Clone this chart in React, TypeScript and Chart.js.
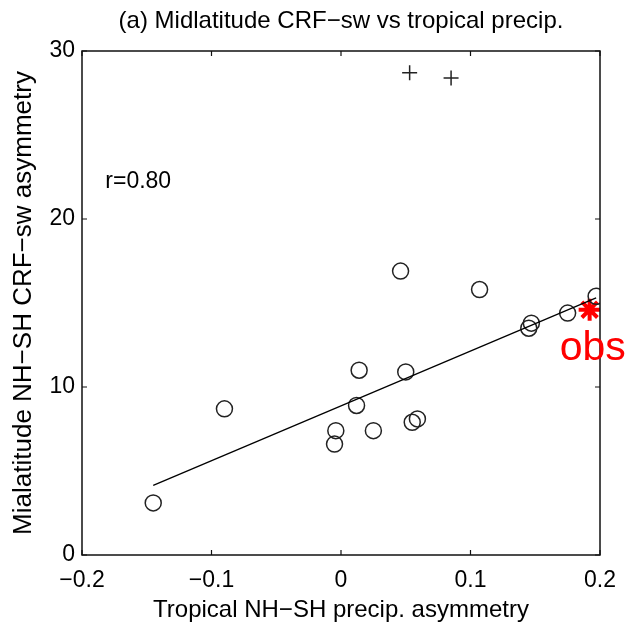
import React, { useEffect, useRef } from "react";
import { Chart, registerables } from "chart.js";

Chart.register(...registerables);

// ---- data ----
const CIRCLE_X = [-0.145, -0.090, -0.004, -0.005, 0.012, 0.014, 0.025, 0.046, 0.050, 0.055, 0.059, 0.107, 0.145, 0.147, 0.175, 0.197];
const CIRCLE_Y = [3.1, 8.7, 7.4, 6.6, 8.9, 11.0, 7.4, 16.9, 10.9, 7.9, 8.1, 15.8, 13.5, 13.8, 14.4, 15.4];
const PLUS_X = [0.053, 0.085];
const PLUS_Y = [28.7, 28.4];
const FIT_X = [-0.145, 0.197];
const FIT_Y = [4.15, 15.3];
const OBS_X = [0.192];
const OBS_Y = [14.6];

const X_TICKS = [-0.2, -0.1, 0, 0.1, 0.2];
const X_TICK_LABELS = ["\u22120.2", "\u22120.1", "0", "0.1", "0.2"];
const Y_TICKS = [0, 10, 20, 30];
const Y_TICK_LABELS = ["0", "10", "20", "30"];

const TITLE = "(a) Midlatitude CRF\u2212sw vs tropical precip.";
const X_TITLE = "Tropical NH\u2212SH precip. asymmetry";
const Y_TITLE = "Mialatitude NH\u2212SH CRF\u2212sw asymmetry";
const R_LABEL = "r=0.80";
const R_POS = { x: -0.182, y: 22.25 };
const OBS_LABEL = "obs";

const FONT = "'Liberation Sans', Arial, Helvetica, sans-serif";

const framePlugin = {
  id: "frame",
  afterDatasetsDraw(chart: any) {
    const { ctx, chartArea } = chart;
    const { left, right, top, bottom } = chartArea;
    const xs = chart.scales.x;
    const ys = chart.scales.y;
    ctx.save();
    ctx.strokeStyle = "#111";
    ctx.lineWidth = 1.5;
    ctx.strokeRect(left, top, right - left, bottom - top);
    ctx.lineWidth = 1.2;
    const tl = 5;
    ctx.beginPath();
    X_TICKS.forEach((v) => {
      const px = xs.getPixelForValue(v);
      ctx.moveTo(px, bottom);
      ctx.lineTo(px, bottom - tl);
      ctx.moveTo(px, top);
      ctx.lineTo(px, top + tl);
    });
    Y_TICKS.forEach((v) => {
      const py = ys.getPixelForValue(v);
      ctx.moveTo(left, py);
      ctx.lineTo(left + tl, py);
      ctx.moveTo(right, py);
      ctx.lineTo(right - tl, py);
    });
    ctx.stroke();

    // annotations
    ctx.fillStyle = "#000";
    ctx.font = `23px ${FONT}`;
    ctx.textAlign = "left";
    ctx.textBaseline = "middle";
    ctx.fillText(R_LABEL, xs.getPixelForValue(R_POS.x), ys.getPixelForValue(R_POS.y));

    ctx.fillStyle = "#ff0000";
    ctx.font = `41px ${FONT}`;
    ctx.textAlign = "left";
    ctx.textBaseline = "alphabetic";
    ctx.fillText(OBS_LABEL, xs.getPixelForValue(OBS_X[0]) - 30, ys.getPixelForValue(OBS_Y[0]) + 50);
    ctx.restore();
  },
};

export default function App() {
  const ref = useRef<HTMLCanvasElement>(null);
  useEffect(() => {
    if (!ref.current) return;
    const chart = new Chart(ref.current, {
      type: "scatter",
      data: {
        datasets: [
          {
            type: "line",
            data: FIT_X.map((x, i) => ({ x, y: FIT_Y[i] })),
            borderColor: "#000",
            borderWidth: 1.3,
            pointRadius: 0,
            fill: false,
          } as any,
          {
            data: CIRCLE_X.map((x, i) => ({ x, y: CIRCLE_Y[i] })),
            pointStyle: "circle",
            pointRadius: 8,
            backgroundColor: "rgba(0,0,0,0)",
            borderColor: "#222",
            borderWidth: 1.5,
          },
          {
            data: PLUS_X.map((x, i) => ({ x, y: PLUS_Y[i] })),
            pointStyle: "cross",
            pointRadius: 7.5,
            borderColor: "#222",
            borderWidth: 1.5,
          },
          {
            data: OBS_X.map((x, i) => ({ x, y: OBS_Y[i] })),
            pointStyle: "star",
            pointRadius: 11,
            borderColor: "#ff0000",
            borderWidth: 4,
          },
        ],
      },
      options: {
        animation: false,
        responsive: false,
        devicePixelRatio: 1,
        layout: { padding: { top: 0, right: 28, bottom: 0, left: 0 } },
        plugins: {
          legend: { display: false },
          tooltip: { enabled: false },
          title: {
            display: true,
            text: TITLE,
            fullSize: false,
            color: "#000",
            font: { family: FONT, size: 24, weight: "normal" },
            padding: { top: 7, bottom: 15.2 },
          },
        },
        scales: {
          x: {
            type: "linear",
            min: -0.2,
            max: 0.2,
            afterBuildTicks: (s: any) => {
              s.ticks = X_TICKS.map((v) => ({ value: v }));
            },
            afterFit: (s: any) => {
              s.height = 77;
            },
            grid: { display: false, drawTicks: false },
            border: { display: false },
            ticks: {
              color: "#000",
              padding: 12,
              maxRotation: 0,
              autoSkip: false,
              font: { family: FONT, size: 23 },
              callback: (_v: any, i: number) => X_TICK_LABELS[i],
            },
            title: {
              display: true,
              text: X_TITLE,
              color: "#000",
              font: { family: FONT, size: 24 },
              padding: { top: 0, bottom: 7 },
            },
          },
          y: {
            type: "linear",
            min: 0,
            max: 30,
            afterBuildTicks: (s: any) => {
              s.ticks = Y_TICKS.map((v) => ({ value: v }));
            },
            afterFit: (s: any) => {
              s.width = 82;
            },
            grid: { display: false, drawTicks: false },
            border: { display: false },
            ticks: {
              color: "#000",
              padding: 7,
              autoSkip: false,
              font: { family: FONT, size: 23 },
              callback: (_v: any, i: number) => Y_TICK_LABELS[i],
            },
            title: {
              display: true,
              text: Y_TITLE,
              color: "#000",
              font: { family: FONT, size: 26 },
              padding: { top: 8, bottom: 0 },
            },
          },
        },
      },
      plugins: [framePlugin],
    });
    return () => chart.destroy();
  }, []);
  return (
    <div style={{ position: "fixed", left: 0, top: 0, width: 628, height: 632, background: "#fff" }}>
      <canvas ref={ref} width={628} height={632} style={{ width: 628, height: 632, display: "block" }} />
    </div>
  );
}
